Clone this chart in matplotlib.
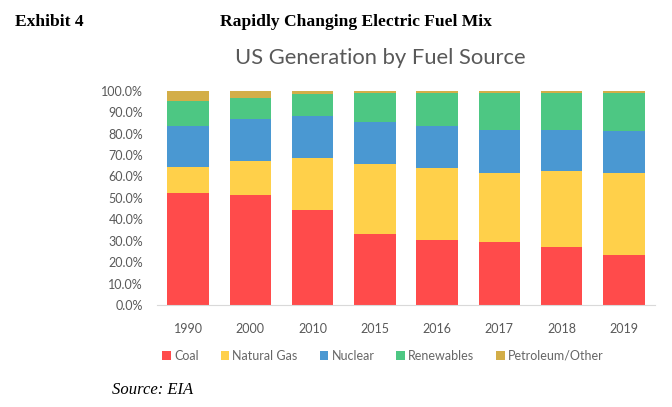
import numpy as np
import matplotlib.pyplot as plt
from matplotlib.ticker import PercentFormatter

# Shares of US generation by fuel source (in %)
years = ['1990', '2000', '2010', '2015', '2016', '2017', '2018', '2019']
coal = [52.1, 51.3, 44.5, 33.1, 30.2, 29.5, 27.2, 23.2]
natural_gas = [12.1, 15.9, 23.9, 32.5, 33.9, 32.2, 35.2, 38.4]
nuclear = [19.3, 19.7, 19.8, 19.6, 19.6, 20.1, 19.4, 19.6]
renewables = [11.7, 9.5, 10.1, 13.6, 15.4, 17.3, 17.3, 17.9]
petroleum = [4.8, 3.6, 1.7, 1.2, 0.9, 0.9, 0.9, 0.9]

series = ['Coal', 'Natural Gas', 'Nuclear', 'Renewables', 'Petroleum/Other']
colores = ['#FF4B4B', '#FFD04A', '#4A98D2', '#4DC783', '#D3AE48']
gris = '#595959'

fig = plt.figure(figsize=(6.72, 4.07), dpi=100)
ax = fig.add_axes([0.2336, 0.2506, 0.7411, 0.5266])

x = np.arange(len(years))
base = np.zeros(len(years))
for nombre, valores, c in zip(series, [coal, natural_gas, nuclear, renewables, petroleum], colores):
    v = np.array(valores) / 100
    ax.bar(x, v, bottom=base, width=0.67, color=c, label=nombre, zorder=2)
    base += v

ax.set_xlim(-0.5, len(years) - 0.5)
ax.set_ylim(0, 1)
ax.set_yticks(np.arange(0, 1.01, 0.1))
ax.yaxis.set_major_formatter(PercentFormatter(1.0, decimals=1))
ax.set_xticks(x)
ax.set_xticklabels(years)
ax.tick_params(axis='both', length=0, labelcolor=gris, labelsize=9)
ax.tick_params(axis='y', pad=10)
ax.tick_params(axis='x', pad=13)
for lab in ax.get_xticklabels() + ax.get_yticklabels():
    lab.set_family('Lato')

for lado in ['top', 'right', 'left']:
    ax.spines[lado].set_visible(False)
ax.spines['bottom'].set_color('#D9D9D9')

fig.legend(loc='center', bbox_to_anchor=(383 / 672, 1 - 356 / 407), ncol=5, frameon=False,
           prop={'family': 'Lato', 'size': 9}, labelcolor='#666666', handlelength=0.7,
           handleheight=0.7, handletextpad=0.25, columnspacing=1.75)

fig.text(380 / 672, 1 - 58 / 407, 'US Generation by Fuel Source', ha='center', va='center',
         fontsize=15.8, color=gris, family='Lato')
fig.text(15 / 672, 1 - 22 / 407, 'Exhibit 4', ha='left', va='center', fontsize=12.6,
         fontweight='bold', family='Liberation Serif')
fig.text(220 / 672, 1 - 22 / 407, 'Rapidly Changing Electric Fuel Mix', ha='left', va='center',
         fontsize=12.6, fontweight='bold', family='Liberation Serif')
fig.text(112 / 672, 1 - 390 / 407, 'Source: EIA', ha='left', va='center', fontsize=12,
         style='italic', family='Liberation Serif')

plt.savefig('out.png')
